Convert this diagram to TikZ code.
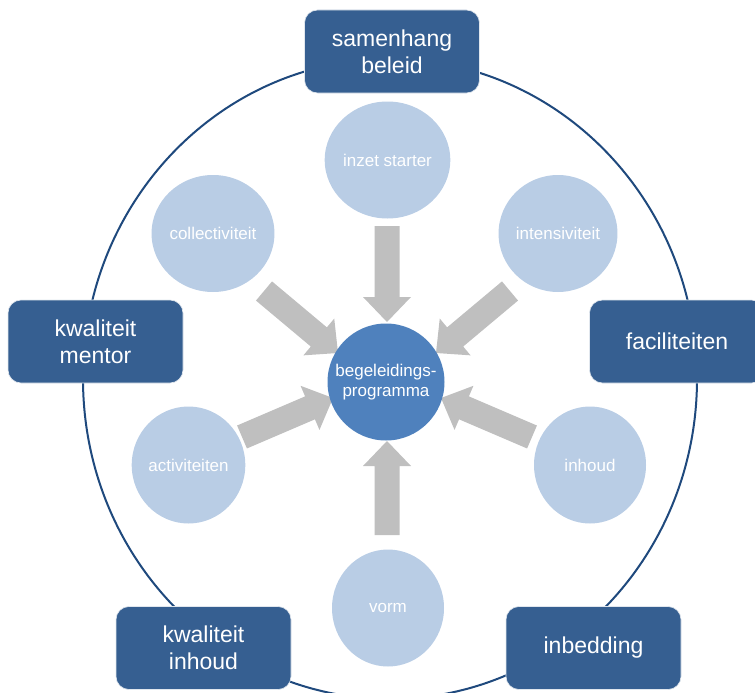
\documentclass[tikz,border=0pt]{standalone}
\usepackage{fontspec}
\setmainfont{Liberation Sans}
\usetikzlibrary{calc,shapes.geometric}
\definecolor{boxblue}{RGB}{54,95,145}
\definecolor{ringblue}{RGB}{31,73,125}
\definecolor{lightblue}{RGB}{185,205,229}
\definecolor{midblue}{RGB}{79,129,189}
\definecolor{arrowgray}{RGB}{191,191,191}
% block arrow from back centre #1 to tip #2
\newcommand\blockarrow[2]{%
  \path ($(#2)!25pt!(#1)$) coordinate (hb);
  \fill[arrowgray] ($(#1)!12.5pt!90:(#2)$) -- ($(hb)!12.5pt!90:(#2)$)
    -- ($(hb)!24pt!90:(#2)$) -- (#2) -- ($(hb)!24pt!-90:(#2)$)
    -- ($(hb)!12.5pt!-90:(#2)$) -- ($(#1)!12.5pt!-90:(#2)$) -- cycle;}
\begin{document}
\begin{tikzpicture}[x=1pt,y=-1pt,
  bigbox/.style={rectangle, rounded corners=13pt, fill=boxblue, draw=white!85!boxblue, line width=0.6pt,
    minimum width=175pt, minimum height=83pt, inner sep=0pt, text=white, align=center,
    font=\fontsize{23}{27}\selectfont},
  bubble/.style={ellipse, fill=lightblue, minimum width=112pt, minimum height=117pt, inner sep=0pt,
    text=white, font=\fontsize{17}{20}\selectfont},
  hub/.style={circle, fill=midblue, minimum size=117pt, inner sep=0pt, text=white, align=center,
    font=\fontsize{17}{20}\selectfont}]
\useasboundingbox (0,0) rectangle (755,693);
\clip (0,0) rectangle (755,693);
% ring
\node[ellipse, draw=ringblue, line width=2pt, minimum width=614pt, minimum height=640pt, inner sep=0pt] (ring) at (390,379) {};
% arrow coordinates
\coordinate (s1) at (387,226); \coordinate (t1) at (387,322);
\coordinate (s2) at (264,291); \coordinate (t2) at (338,353);
\coordinate (s3) at (510,291); \coordinate (t3) at (436,353);
\coordinate (s4) at (242,437); \coordinate (t4) at (333,398);
\coordinate (s5) at (532,437); \coordinate (t5) at (441,398);
\coordinate (s6) at (387,535); \coordinate (t6) at (387,441);
\blockarrow{s1}{t1}
\blockarrow{s2}{t2}
\blockarrow{s3}{t3}
\blockarrow{s4}{t4}
\blockarrow{s5}{t5}
\blockarrow{s6}{t6}
% bubbles
\node[bubble] (inzet) at (387.5,160) {inzet starter};
\node[bubble] (coll) at (213,233.5) {collectiviteit};
\node[bubble] (inten) at (558,233.5) {intensiviteit};
\node[bubble] (act) at (188.5,465) {activiteiten};
\node[bubble] (inh) at (590,465) {inhoud};
\node[bubble] (vorm) at (388,608) {vorm};
% hub
\node[hub] (hub) at (386,382) {begeleidings-\\programma};
% outer boxes
\node[bigbox] (samen) at (392,51.5) {samenhang\\beleid};
\node[bigbox] (mentor) at (95.5,341.5) {kwaliteit\\mentor};
\node[bigbox] (facil) at (677,341.5) {faciliteiten};
\node[bigbox] (kinh) at (203.5,648) {kwaliteit\\inhoud};
\node[bigbox] (inbed) at (593.5,648) {inbedding};
\end{tikzpicture}
\end{document}
